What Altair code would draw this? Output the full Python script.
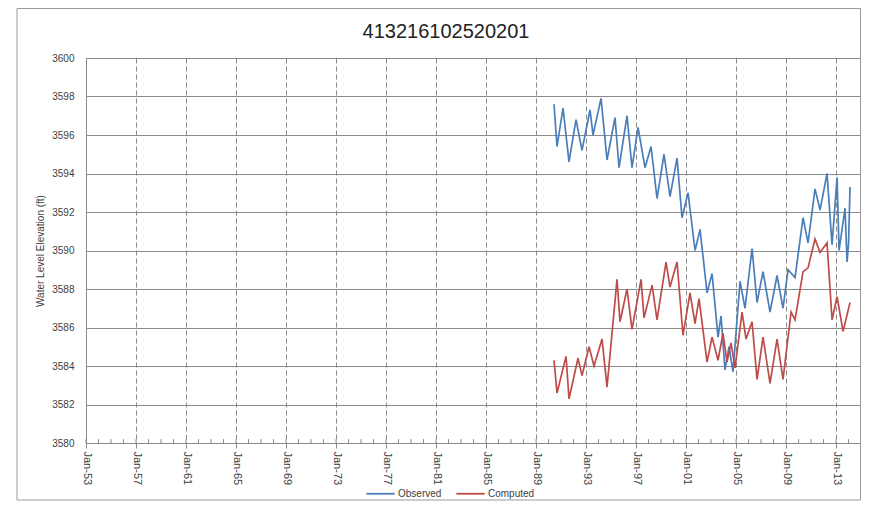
import altair as alt
import pandas as pd

TITLE = "413216102520201"
Y_TITLE = "Water Level Elevation (ft)"
SERIES = ["Observed", "Computed"]
COLORS = ["#4A7EBB", "#BE4B48"]

obs_year = [1990.44, 1990.68, 1991.16, 1991.64, 1992.20, 1992.68, 1993.32, 1993.56, 1994.20, 1994.68,
            1995.32, 1995.64, 1996.28, 1996.68, 1997.16, 1997.72, 1998.20, 1998.68, 1999.24, 1999.72,
            2000.28, 2000.68, 2001.16, 2001.72, 2002.12, 2002.68, 2003.08, 2003.56, 2003.80, 2004.12,
            2004.44, 2004.76, 2005.32, 2005.72, 2006.28, 2006.68, 2007.16, 2007.72, 2008.28, 2008.76,
            2009.16, 2009.72, 2010.36, 2010.76, 2011.32, 2011.72, 2012.28, 2012.68, 2013.08, 2013.24,
            2013.72, 2013.88, 2014.00, 2014.12]
obs_val = [3597.6, 3595.4, 3597.4, 3594.6, 3596.8, 3595.2, 3597.3, 3596.0, 3597.9, 3594.7,
           3596.9, 3594.3, 3597.0, 3594.3, 3596.4, 3594.3, 3595.4, 3592.7, 3595.0, 3592.8,
           3594.8, 3591.7, 3593.0, 3590.0, 3591.1, 3587.8, 3588.8, 3585.5, 3586.6, 3583.8,
           3585.0, 3583.7, 3588.4, 3587.0, 3590.1, 3587.3, 3588.9, 3586.8, 3588.7, 3587.0,
           3589.0, 3588.6, 3591.7, 3590.4, 3593.2, 3592.1, 3594.0, 3590.3, 3593.8, 3590.0,
           3592.2, 3589.4, 3590.4, 3593.3]

comp_year = [1990.44, 1990.68, 1991.40, 1991.64, 1992.36, 1992.68, 1993.24, 1993.64, 1994.28, 1994.68,
             1995.48, 1995.72, 1996.28, 1996.68, 1997.40, 1997.64, 1998.28, 1998.68, 1999.40, 1999.72,
             2000.28, 2000.76, 2001.32, 2001.72, 2002.04, 2002.68, 2003.08, 2003.56, 2003.96, 2004.28,
             2004.60, 2004.92, 2005.48, 2005.80, 2006.28, 2006.68, 2007.16, 2007.72, 2008.28, 2008.76,
             2009.40, 2009.72, 2010.36, 2010.76, 2011.32, 2011.72, 2012.28, 2012.68, 2013.08, 2013.56,
             2014.12]
comp_val = [3584.3, 3582.6, 3584.5, 3582.3, 3584.4, 3583.5, 3585.0, 3584.0, 3585.4, 3582.9,
            3588.5, 3586.3, 3588.0, 3585.9, 3588.5, 3586.5, 3588.2, 3586.4, 3589.4, 3588.1,
            3589.4, 3585.6, 3587.8, 3586.2, 3587.5, 3584.2, 3585.5, 3584.3, 3585.7, 3584.2,
            3585.2, 3583.9, 3586.8, 3585.4, 3586.3, 3583.3, 3585.5, 3583.1, 3585.4, 3583.3,
            3586.8, 3586.4, 3588.9, 3589.1, 3590.6, 3589.9, 3590.4, 3586.4, 3587.6, 3585.8,
            3587.3]

major_years = list(range(1953, 2014, 4))
minor_years = list(range(1953, 2015))
y_ticks = list(range(3580, 3601, 2))


def to_date(y):
    yr = int(y)
    frac = y - yr
    d = pd.Timestamp(year=yr, month=1, day=1) + pd.Timedelta(days=frac * 365.25)
    return d.strftime("%Y-%m-%dT00:00:00")


rows = []
for y, v in zip(obs_year, obs_val):
    rows.append({"date": to_date(y), "value": v, "series": SERIES[0]})
for y, v in zip(comp_year, comp_val):
    rows.append({"date": to_date(y), "value": v, "series": SERIES[1]})
df = pd.DataFrame(rows)

minor_df = pd.DataFrame({"date": [f"{y}-01-01T00:00:00" for y in minor_years],
                         "value": [3580] * len(minor_years),
                         "hi": [3580.2] * len(minor_years)})

GRID = "#8a8a8a"
TEXT = "#404040"
W, H = 774, 385

xscale = alt.Scale(domain=[alt.DateTime(year=1953, month=1, date=1),
                           alt.DateTime(year=2014, month=12, date=1)])
yscale = alt.Scale(domain=[3580, 3600], nice=False, zero=False)

xaxis = alt.Axis(values=[alt.DateTime(year=y, month=1, date=1) for y in major_years],
                 format="%b-%y", labelAngle=90, labelFontSize=11, labelColor=TEXT,
                 labelFont="Liberation Sans", labelPadding=3,
                 grid=True, gridColor=GRID, gridDash=[5, 3], gridWidth=1,
                 tickSize=5, tickColor=GRID, domainColor=GRID, labelFlush=False)
yaxis = alt.Axis(values=y_ticks, format="d", labelFontSize=10, labelColor=TEXT,
                 labelFont="Liberation Sans", tickSize=0, labelPadding=12,
                 grid=True, gridColor=GRID, gridWidth=1, domainColor=GRID,
                 titleFontSize=10, titleFont="Liberation Sans", titleFontWeight="normal",
                 titleColor=TEXT, titlePadding=6)

minor = alt.Chart(minor_df).mark_rule(color=GRID, strokeWidth=1).encode(
    x=alt.X("date:T", scale=xscale, axis=xaxis, title=None),
    y=alt.Y("value:Q", scale=yscale, axis=yaxis, title=Y_TITLE),
    y2="hi:Q",
)

lines = alt.Chart(df).mark_line(strokeWidth=1.7, interpolate="linear").encode(
    x=alt.X("date:T", scale=xscale, axis=xaxis, title=None),
    y=alt.Y("value:Q", scale=yscale, axis=yaxis, title=Y_TITLE),
    color=alt.Color("series:N", scale=alt.Scale(domain=SERIES, range=COLORS),
                    legend=alt.Legend(orient="none", legendX=279, legendY=420,
                                      direction="horizontal", title=None,
                                      symbolType="stroke", symbolSize=800, symbolStrokeWidth=1.8,
                                      labelFontSize=10, labelFont="Liberation Sans",
                                      labelColor=TEXT, columnPadding=10, labelOffset=2)),
)

frame = alt.Chart(alt.Data(values=[{"k": 1}])).mark_rect(
    filled=False, stroke="#9a9a9a", strokeWidth=1, clip=False
).encode(
    x=alt.value(-69), x2=alt.value(W + 0.5), y=alt.value(-49.5), y2=alt.value(H + 57)
)

chart = alt.layer(minor, lines, frame).properties(
    width=W, height=H,
    title=alt.TitleParams(TITLE, fontSize=20, font="Liberation Sans", fontWeight="normal",
                          color="#222222", anchor="middle", frame="group", dx=-27, offset=-34),
    autosize=alt.AutoSizeParams(type="none"),
    padding={"left": 78, "top": 50, "right": 1, "bottom": 58},
).configure_view(stroke=GRID, strokeWidth=1).configure(background="white")

chart.save("out.html", embed_options={"renderer": "svg", "actions": False})
